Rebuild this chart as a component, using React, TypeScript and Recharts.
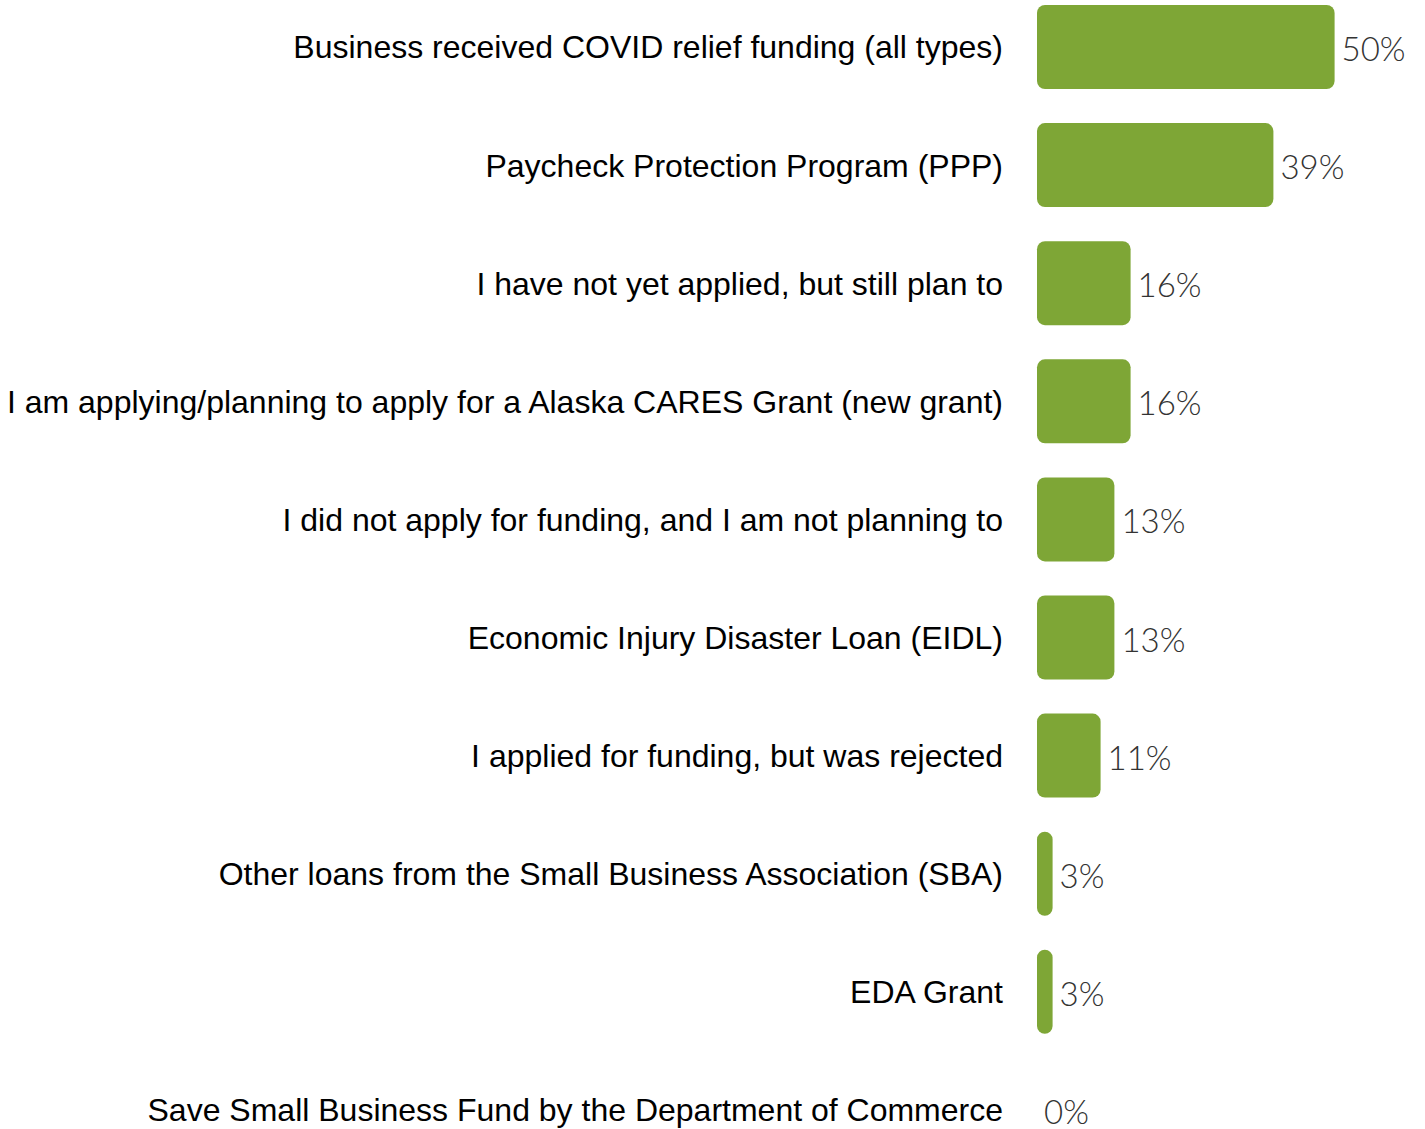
import React from 'react';
import { BarChart, Bar, XAxis, YAxis, LabelList, ReferenceDot } from 'recharts';

const categories: string[] = [
  'Business received COVID relief funding (all types)',
  'Paycheck Protection Program (PPP)',
  'I have not yet applied, but still plan to',
  'I am applying/planning to apply for a Alaska CARES Grant (new grant)',
  'I did not apply for funding, and I am not planning to',
  'Economic Injury Disaster Loan (EIDL)',
  'I applied for funding, but was rejected',
  'Other loans from the Small Business Association (SBA)',
  'EDA Grant',
  'Save Small Business Fund by the Department of Commerce',
];

const values: number[] = [49.6, 39.4, 15.6, 15.6, 12.9, 12.9, 10.6, 2.6, 2.6, 0];

const data = categories.map((name, i) => ({ name, value: values[i] }));

const fmt = (v: number) => `${Math.round(Number(v))}%`;

const valueText = (x: number, y: number, v: number) => (
  <text
    x={x + 7}
    y={y + 1}
    dominantBaseline="central"
    textAnchor="start"
    fill="#333"
    fontSize={33}
    fontWeight={300}
    fontFamily='Lato, Roboto, "Helvetica Neue", sans-serif'
  >
    {fmt(v)}
  </text>
);

const BarValueLabel = (props: any) => {
  const { x, y, width, height, value } = props;
  if (x == null || y == null) return null;
  return valueText(Number(x) + (Number(width) || 0), Number(y) + (Number(height) || 0) / 2, Number(value));
};

const makeZeroLabel = (v: number) => (props: any) => {
  const vb = props.viewBox || props;
  if (!vb || vb.x == null) return null;
  return valueText(Number(vb.x) + (Number(vb.width) || 0), Number(vb.y) + (Number(vb.height) || 0) / 2, v);
};

export default function App() {
  return (
    <div style={{ position: 'absolute', top: 0, left: 0, width: 1425, height: 1129, overflow: 'hidden', background: '#fff' }}>
      <div style={{ position: 'relative', top: -12 }}>
        <BarChart
          width={1425}
          height={1181}
          data={data}
          layout="vertical"
          margin={{ top: 0, right: 88, bottom: 0, left: 0 }}
        >
          <XAxis type="number" domain={[0, 50]} hide />
          <YAxis
            type="category"
            dataKey="name"
            width={1037}
            axisLine={false}
            tickLine={false}
            tickSize={0}
            tickMargin={34}
            interval={0}
            tick={{ fill: '#000', fontSize: 32, fontFamily: '"Liberation Sans", Arial, Helvetica, sans-serif' }}
          />
          <Bar dataKey="value" fill="#7ea636" barSize={84} radius={8} isAnimationActive={false}>
            <LabelList dataKey="value" content={BarValueLabel} />
          </Bar>
          {data
            .filter((d) => d.value === 0)
            .map((d) => (
              <ReferenceDot
                key={d.name}
                x={d.value}
                y={d.name}
                r={0}
                fill="none"
                stroke="none"
                ifOverflow="visible"
                label={{ content: makeZeroLabel(d.value) }}
              />
            ))}
        </BarChart>
      </div>
    </div>
  );
}
